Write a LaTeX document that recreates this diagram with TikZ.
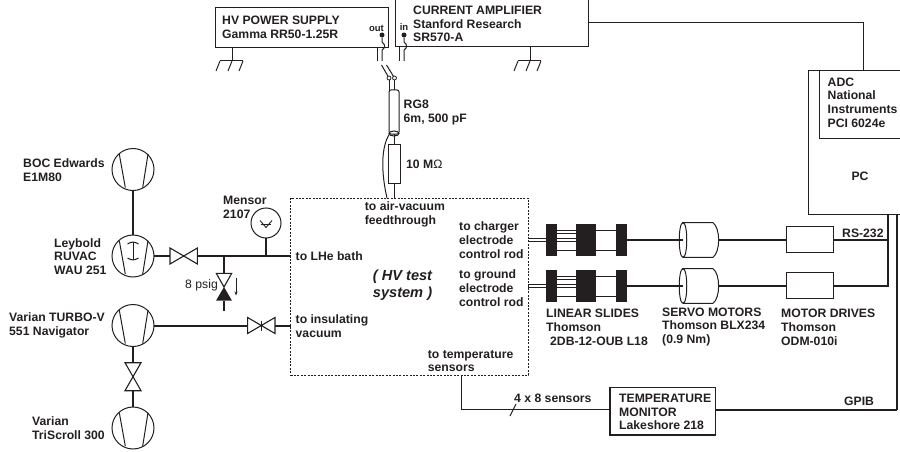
\documentclass[tikz,border=0pt]{standalone}
\usepackage{fontspec}
\setmainfont{Liberation Sans}
\usetikzlibrary{calc,arrows.meta,positioning,shapes.geometric}
\definecolor{ink}{HTML}{231F20}
\tikzset{
  base/.style={draw=ink,line width=1pt,inner sep=0pt,outer sep=0pt},
  lab/.style={text=ink,font=\fontsize{12.2}{13.8}\selectfont\bfseries,align=left,anchor=west,inner sep=0pt},
  box/.style={base,rectangle},
  pump/.style={base,circle,minimum size=42pt},
  thick pipe/.style={draw=ink,line width=2.2pt},
  wire/.style={draw=ink,line width=1.6pt},
  thin wire/.style={draw=ink,line width=1pt},
  blk/.style={fill=ink,draw=none,inner sep=0pt,outer sep=0pt,rectangle},
  dot/.style={fill=ink,draw=none,circle,minimum size=5pt,inner sep=0pt},
  ring/.style={base,circle,minimum size=4pt,line width=.8pt},
}
\newcommand{\pumplines}[1]{%
  \draw[thin wire] ($(#1)+(-13.7,-15.3)$) -- ($(#1)+(-7.7,18)$);
  \draw[thin wire] ($(#1)+(15,-15.3)$) -- ($(#1)+(9.7,18)$);}
\newcommand{\hvalve}[1]{%
  \draw[thin wire,line width=1.1pt] ($(#1)+(-13.7,-8)$) -- ($(#1)+(13.7,8)$) -- ($(#1)+(13.7,-8)$) -- ($(#1)+(-13.7,8)$) -- cycle;}
\newcommand{\vvalve}[1]{%
  \draw[thin wire,line width=1.1pt] ($(#1)+(-8,-14)$) -- ($(#1)+(8,14)$) -- ($(#1)+(-8,14)$) -- ($(#1)+(8,-14)$) -- cycle;}
\newcommand{\gnd}[1]{%
  \draw[thin wire] (#1) ++(-12,0) -- ++(23,0);
  \foreach \d in {-12,0,11} {\draw[thin wire] ($(#1)+(\d,0)$) -- ++(-4,10);}}
\begin{document}
\begin{tikzpicture}[x=1pt,y=-1pt]
\useasboundingbox (0,0) rectangle (900,452);
\clip (0,0) rectangle (900,452);

% instruments
\node[box,minimum width=173pt,minimum height=39.5pt] (hv) at (302,27.5) {};
\node[box,minimum width=193.5pt,minimum height=57pt] (amp) at (492.2,18.5) {};
\node[lab] (hvt) at (222,27) {HV POWER SUPPLY\\Gamma RR50-1.25R};
\node[lab] (ampt) at (413,24) {CURRENT AMPLIFIER\\Stanford Research\\SR570-A};
\node[box,minimum width=102pt,minimum height=144pt] (pc) at (859.5,142.5) {};
\node[box,minimum width=91pt,minimum height=67.5pt] (adc) at (864.5,104.5) {};
\node[lab] (adct) at (827.5,102.5) {ADC\\National\\Instruments\\PCI 6024e};
\node[lab,anchor=center] (pct) at (860,176) {PC};
\coordinate (ampout) at (589,23);
\coordinate (adcin) at (863,70);
\draw[thin wire] (ampout) -- (adcin|-ampout) -- (adcin);

% grounds
\coordinate (g1) at (232,61);
\coordinate (g2) at (530,61);
\draw[thin wire] (hv.south-|g1) -- (g1);
\gnd{g1}
\draw[thin wire] (amp.south-|g2) -- (g2);
\gnd{g2}

% connectors of the HV line
\node[dot] (out) at (382,35) {};
\node[dot] (in) at (404,35) {};
\node[text=ink,font=\fontsize{9.5}{10}\selectfont\bfseries,inner sep=0pt,anchor=east] (outl) at (384,28) {out};
\node[text=ink,font=\fontsize{9.5}{10}\selectfont\bfseries,inner sep=0pt,anchor=center] (inl) at (404,27.5) {in};
\draw[thin wire] (out) -- (382,42) .. controls (386,45) and (385,48) .. (382,50) -- (382,61);
\draw[thin wire] (in) -- (404,42) .. controls (408,45) and (407,48) .. (404,50) -- (404,61);
\draw[thin wire] (377,47) -- (377,61);
\draw[thin wire] (399,47) -- (399,61);
\node[ring] (sw1) at (389,78) {};
\node[ring] (sw2) at (394.5,78) {};
\draw[thin wire] (381.5,65) -- (sw1);
\draw[thin wire] (386.5,65) -- (sw2);
\node[base,rounded corners=2pt,minimum width=10pt,minimum height=44pt] (cable) at (394,112) {};
\draw[thin wire] (sw1) -- (389,90);
\draw[thin wire] (sw2) -- (394.5,90);
\node[base,ellipse,minimum width=10pt,minimum height=5pt] (shield) at (394,133.5) {};
\node[box,minimum width=12pt,minimum height=39pt] (res) at (394,163.5) {};
\draw[thin wire] (shield.center) -- (res.north);
\node[lab] (rgt) at (403.5,112.5) {RG8\\6m, 500 pF};
\node[lab] (rest) at (406,164) {10 M{\mdseries Ω}};

% HV test system
\node[base,dash pattern=on 2pt off 1.4pt,line width=1pt,minimum width=238pt,minimum height=177pt] (sys) at (409.5,286.5) {};
\draw[thin wire] (res.south) -- (394,198);
\draw[thin wire] (389.5,134) .. controls (381,147) and (381,172) .. (387,198);
\node[lab] (t1) at (364.7,214) {to air-vacuum\\feedthrough};
\node[lab,font=\fontsize{14.6}{17}\selectfont\bfseries\itshape] (t2) at (372.7,285.5) {( HV test\\system )};
\node[lab] (t3) at (295.5,256) {to LHe bath};
\node[lab] (t4) at (295.5,326) {to insulating\\vacuum};
\node[lab] (t5) at (459,240) {to charger\\electrode\\control rod};
\node[lab] (t6) at (459,288) {to ground\\electrode\\control rod};
\node[lab] (t7) at (427.7,361) {to temperature\\sensors};

% vacuum pumps
\node[pump] (boc) at (133,169.5) {};
\node[pump] (ley) at (133,256) {};
\node[pump] (tur) at (133,325.5) {};
\node[pump] (tri) at (133,428) {};
\pumplines{boc}\pumplines{ley}\pumplines{tur}\pumplines{tri}
\draw[thin wire] ($(ley)+(0,-14)$) -- ($(ley)+(0,4)$);
\draw[thin wire] ($(ley)+(-5.5,-12)$) .. controls ($(ley)+(-2,-14.5)$) and ($(ley)+(2,-14.5)$) .. ($(ley)+(5.5,-12)$);
\draw[thin wire] ($(ley)+(-5.5,2)$) .. controls ($(ley)+(-2,4.5)$) and ($(ley)+(2,4.5)$) .. ($(ley)+(5.5,2)$);
\node[lab] (bt) at (23,170) {BOC Edwards\\E1M80};
\node[lab] (lt) at (54,256.5) {Leybold\\RUVAC\\WAU 251};
\node[lab,anchor=east] (tt) at (105,325) {Varian TURBO-V\\551 Navigator};
\node[lab] (trt) at (32,428) {Varian\\TriScroll 300};

\draw[thick pipe] (boc) -- (ley);
\coordinate (v1) at (183.7,256);
\coordinate (v1a) at (170,256);
\coordinate (v1b) at (197.4,256);
\draw[thick pipe] (ley) -- (v1a);
\hvalve{v1}
\coordinate (tee) at (224,256);
\coordinate (gj) at (266,256);
\draw[thick pipe] (v1b) -- (sys.west|-tee);
\node[base,circle,minimum size=30pt] (gauge) at (266,223) {};
\draw[thick pipe] (gauge) -- (gj);
\draw[thin wire,line width=.9pt] ($(gauge)+(-6,-2.5)$) -- ($(gauge)+(0,4.5)$) -- ($(gauge)+(6,-2.5)$);
\draw[thin wire,line width=.9pt] ($(gauge)+(-5,1)$) -- ($(gauge)+(5,1)$);
\node[lab] (mt) at (223,207) {Mensor\\2107};

% relief valve
\draw[thick pipe] (tee) -- (224,273.3);
\draw[thin wire,line width=1.1pt,fill=white] (216.3,273.3) -- (231.7,273.3) -- (224,287) -- cycle;
\fill[ink] (216,300.7) -- (232,300.7) -- (224,287) -- cycle;
\draw[thick pipe] (224,300.7) -- (224,311);
\draw[thin wire,line width=.8pt,-{Stealth[length=4pt,width=3pt]}] (236,278) -- (236,295.5);
\node[text=ink,font=\fontsize{12.2}{14}\selectfont,anchor=east,inner sep=0pt] (psig) at (218,285) {8 psig};

% insulating vacuum line
\coordinate (v2) at (261.3,325.5);
\coordinate (v2a) at (247.5,325.5);
\coordinate (v2b) at (275,325.5);
\draw[wire,line width=2pt] (tur) -- (v2a);
\hvalve{v2}
\draw[thin wire] (261.3,320.5) -- (261.3,330.5);
\draw[wire,line width=2pt] (v2b) -- (sys.west|-v2);
\coordinate (v3) at (133,376.7);
\coordinate (v3a) at (133,362.7);
\coordinate (v3b) at (133,390.7);
\vvalve{v3}
\draw[thick pipe] (tur) -- (v3a);
\draw[thick pipe] (v3b) -- (tri);

% rods and slides
\foreach \y/\n in {240/a,286/b}{
  \draw[ink,line width=.7pt] (528,\y-1.3) -- (546,\y-1.3) (528,\y+1.3) -- (546,\y+1.3) (556,\y-1.3) -- (576,\y-1.3) (556,\y+1.3) -- (576,\y+1.3);
  \draw[ink,line width=.8pt] (556,\y-10) -- (616,\y-10) (556,\y-7) -- (576,\y-7) (556,\y+10) -- (616,\y+10);
  \node[blk,minimum width=11pt,minimum height=32.7pt] (s1\n) at (551.2,\y) {};
  \node[blk,minimum width=20pt,minimum height=32.7pt] (s2\n) at (586,\y) {};
  \node[blk,minimum width=11.4pt,minimum height=32.7pt] (s3\n) at (621.6,\y) {};
  \coordinate (m\n) at (683,\y);
  \coordinate (mr\n) at (719,\y);
  \draw[wire] (s3\n.east) -- (m\n);
  \draw[thin wire,fill=none] (683,\y-17.3) .. controls (678,\y-17.3) and (678,\y+17.3) .. (683,\y+17.3) .. controls (688,\y+17.3) and (688,\y-17.3) .. (683,\y-17.3) -- (713,\y-17.3) .. controls (720.5,\y-12) and (720.5,\y+12) .. (713,\y+17.3) -- (683,\y+17.3);
  \node[box,minimum width=47pt,minimum height=26pt] (d\n) at (809.5,\y-.3) {};
  \draw[wire] (mr\n) -- (d\n.west|-m\n);
}
\coordinate (bus) at (888,240);
\coordinate (busb) at (888,287);
\coordinate (gb) at (897,214);
\coordinate (gc) at (897,410);
\draw[wire] (da.east|-ma) -- (bus);
\draw[wire] (db.east|-mb) -- (busb|-mb);
\draw[draw=ink,line width=2.6pt] (pc.south-|bus) -- (busb);
\draw[wire] (gb) -- (gc);
\node[lab] (rs) at (842,233.5) {RS-232};
\node[lab] (ls) at (546,327) {LINEAR SLIDES\\Thomson\\\hspace*{4pt}2DB-12-OUB L18};
\node[lab] (sm) at (662,327) {SERVO MOTORS\\Thomson BLX234\\(0.9 Nm)};
\node[lab] (md) at (781,327) {MOTOR DRIVES\\Thomson\\ODM-010i};

% temperature monitor
\node[box,line width=1.1pt,minimum width=105.5pt,minimum height=47.5pt] (tm) at (662.7,411.2) {};
\node[lab] (tmt) at (619,412) {TEMPERATURE\\MONITOR\\Lakeshore 218};
\draw[wire] (tm.east|-gc) -- (gc);
\coordinate (sb) at (461.7,409.5);
\draw[thin wire] (sys.south-|sb) -- (sb) -- (tm.west|-sb);
\coordinate (sl1) at (510,416);
\coordinate (sl2) at (516,404);
\draw[thin wire] (sl1) -- (sl2);
\node[lab] (sens) at (514,398) {4 x 8 sensors};
\node[lab] (gp) at (844,401.5) {GPIB};
\end{tikzpicture}
\end{document}
